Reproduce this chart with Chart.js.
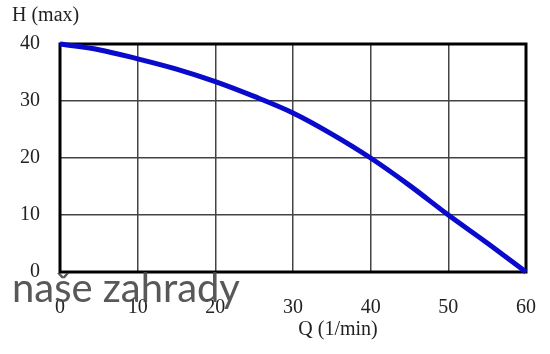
<!DOCTYPE html>
<html lang="en">
<head>
  <meta charset="UTF-8" />
  <title>H - Q</title>
  <script src="https://cdn.jsdelivr.net/npm/chart.js"></script>
  <style>
    html, body { margin: 0; padding: 0; background: #fff; }
    canvas { display: block; }
  </style>
</head>
<body>
  <canvas id="pumpChart" width="550" height="354"></canvas>

  <script>
    // flow (l/min) and head
    const flow = [0, 5, 10, 15, 20, 25, 30, 35, 40, 45, 50, 55, 60];
    const head = [40, 39, 37.4, 35.6, 33.4, 30.8, 27.9, 24.2, 20, 15.2, 10, 5.1, 0];
    const xTicks = [0, 10, 20, 30, 40, 50, 60];
    const yTicks = [0, 10, 20, 30, 40];

    const serif = "'Liberation Serif', 'DejaVu Serif', serif";

    const frame = {
      id: "frame",
      beforeDatasetsDraw(chart) {
        const { ctx, chartArea: a } = chart;
        ctx.save();
        ctx.strokeStyle = "#000";
        ctx.lineWidth = 3;
        ctx.strokeRect(a.left, a.top, a.right - a.left, a.bottom - a.top);
        ctx.restore();
      },
      afterDraw(chart) {
        const { ctx } = chart;
        ctx.save();
        ctx.fillStyle = "#222";
        ctx.font = "20px " + serif;
        ctx.textBaseline = "middle";
        ctx.textAlign = "left";
        ctx.fillText("H (max)", 12, 16);
        ctx.textAlign = "center";
        ctx.fillText("Q (1/min)", 338, 330);

        // watermark
        ctx.fillStyle = "rgba(70,70,70,0.9)";
        ctx.textAlign = "left";
        ctx.textBaseline = "alphabetic";
        ctx.font = "38px Lato, 'Open Sans', sans-serif";
        const w = ctx.measureText("naše zahrady").width;
        const size = 38 * 228 / w;
        ctx.font = size + "px Lato, 'Open Sans', sans-serif";
        ctx.fillText("naše zahrady", 12, 302);
        ctx.restore();
      }
    };

    new Chart(document.getElementById("pumpChart"), {
      type: "scatter",
      data: {
        datasets: [{
          data: flow.map((q, i) => ({ x: q, y: head[i] })),
          showLine: true,
          borderColor: "#0a0acc",
          borderWidth: 5,
          pointRadius: 0,
          cubicInterpolationMode: "monotone",
          clip: false
        }]
      },
      options: {
        responsive: false,
        animation: false,
        layout: { padding: { top: 44, right: 24, left: 0, bottom: 0 } },
        plugins: { legend: { display: false }, tooltip: { enabled: false } },
        scales: {
          x: {
            type: "linear",
            min: 0,
            max: 60,
            afterBuildTicks: s => { s.ticks = xTicks.map(v => ({ value: v })); },
            afterFit: s => { s.height = 82; s.paddingLeft = 0; s.paddingRight = 0; },
            grid: { color: "#444", lineWidth: 1.5, drawTicks: false },
            border: { display: false },
            ticks: { color: "#222", padding: 24, font: { family: serif, size: 20 } }
          },
          y: {
            min: 0,
            max: 40,
            afterBuildTicks: s => { s.ticks = yTicks.map(v => ({ value: v })); },
            afterFit: s => { s.width = 60; s.paddingTop = 0; s.paddingBottom = 0; },
            grid: { color: "#444", lineWidth: 1.5, drawTicks: false },
            border: { display: false },
            ticks: { color: "#222", padding: 20, font: { family: serif, size: 20 } }
          }
        }
      },
      plugins: [frame]
    });
  </script>
</body>
</html>
